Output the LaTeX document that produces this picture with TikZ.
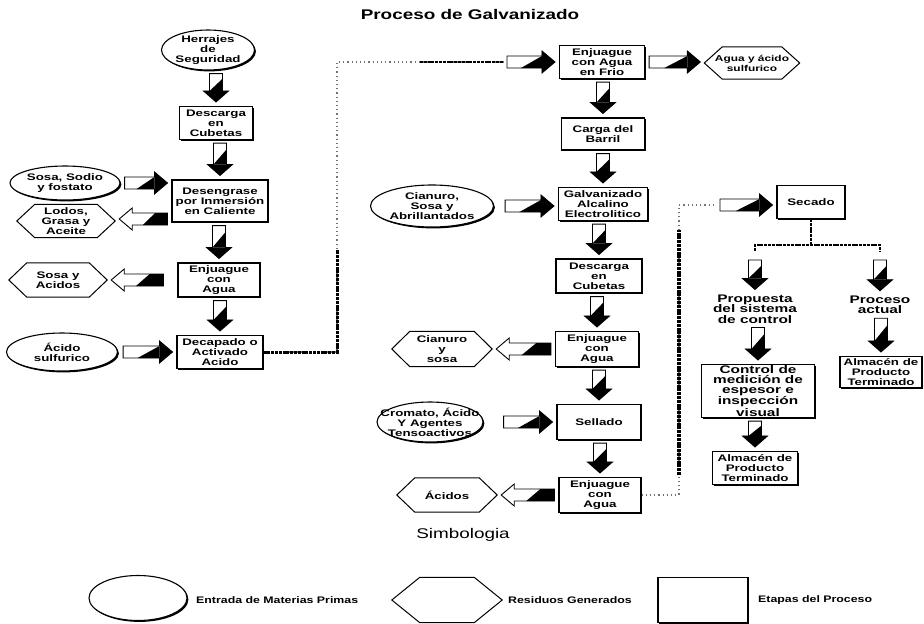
\documentclass[tikz,border=0pt]{standalone}
\usepackage{fontspec}
\setmainfont{Liberation Sans}
\newfontfamily\wideface[FakeStretch=1.4]{Liberation Sans}
\newfontfamily\headface[FakeStretch=1.35]{Liberation Sans}
\newfontfamily\keyface[FakeStretch=1.3]{Liberation Sans}
\usetikzlibrary{shapes.geometric,shadows,calc}

% hexagon drawn round a (borderless) residue node
\newcommand\hexout[2][18pt]{%
  \draw[hexline] (#2.west) -- ([xshift=#1]#2.north west) -- ([xshift=-#1]#2.north east)
    -- (#2.east) -- ([xshift=-#1]#2.south east) -- ([xshift=#1]#2.south west) -- cycle;}

% block arrow pointing down, from #1 to the top of #2
\newcommand\blkdown[2]{%
  \coordinate (bd0) at (#1 -| #2);
  \coordinate (bd1) at ([yshift=-3pt]bd0);
  \coordinate (bd2) at ([yshift=4pt]#2);
  \coordinate (bdh) at ([yshift=11pt]bd2);
  \coordinate (bdw) at ($(bd1)!0.3!(bdh)$);
  \path[blk] ([xshift=-6.5pt]bd1) -- ([xshift=6.5pt]bd1) -- ([xshift=6.5pt]bdh) -- ([xshift=12.5pt]bdh)
    -- (bd2) -- ([xshift=-12.5pt]bdh) -- ([xshift=-6.5pt]bdh) -- cycle;
  \fill ([xshift=6.5pt]bdw) -- ([xshift=6.5pt]bdh) -- ([xshift=-6.5pt]bdh) -- cycle;
  \fill ([xshift=12.5pt]bdh) -- (bd2) -- ([xshift=-12.5pt]bdh) -- cycle;}

% block arrow pointing right, from #2 to #3 (optional tail gap #1)
\newcommand\blkright[3][4pt]{%
  \coordinate (br0) at (#3 |- #2);
  \coordinate (br1) at ([xshift=#1]#2);
  \coordinate (br2) at ([xshift=-4pt]br0);
  \coordinate (brh) at ([xshift=-13pt]br2);
  \coordinate (brw) at ($(br1)!0.4!(brh)$);
  \path[blk] ([yshift=6pt]br1) -- ([yshift=6pt]brh) -- ([yshift=11pt]brh) -- (br2)
    -- ([yshift=-11pt]brh) -- ([yshift=-6pt]brh) -- ([yshift=-6pt]br1) -- cycle;
  \fill ([yshift=-6pt]brw) -- ([yshift=6pt]brh) -- ([yshift=-6pt]brh) -- cycle;
  \fill ([yshift=11pt]brh) -- (br2) -- ([yshift=-11pt]brh) -- cycle;}

% block arrow pointing left, from #2 to #3 (optional tail gap #1)
\newcommand\blkleft[3][4pt]{%
  \coordinate (bl0) at (#3 |- #2);
  \coordinate (bl1) at ([xshift=-#1]#2);
  \coordinate (bl2) at ([xshift=4pt]bl0);
  \coordinate (blh) at ([xshift=13pt]bl2);
  \coordinate (blw) at ($(blh)!0.3!(bl1)$);
  \coordinate (blv) at ($(blh)!0.65!(bl1)$);
  \path[blk] ([yshift=6pt]bl1) -- ([yshift=6pt]blh) -- ([yshift=11pt]blh) -- (bl2)
    -- ([yshift=-11pt]blh) -- ([yshift=-6pt]blh) -- ([yshift=-6pt]bl1) -- cycle;
  \fill ([yshift=-6pt]blw) -- ([yshift=6pt]blv) -- ([yshift=6pt]bl1) -- ([yshift=-6pt]bl1) -- cycle;}

\begin{document}
\begin{tikzpicture}[x=1pt, y=-1pt,
  sz/.style 2 args={minimum width=#1pt, minimum height=#2pt},
  stepfont/.style={font=\wideface\bfseries\fontsize{9.5}{10}\selectfont},
  shade box/.style={drop shadow={shadow xshift=1.4pt, shadow yshift=-1.4pt, opacity=1, fill=black}},
  proc/.style={draw, line width=1.1pt, fill=white, inner sep=1pt, align=center, stepfont, shade box},
  inp/.style={ellipse, draw, line width=1.1pt, fill=white, inner sep=0pt, shade box},
  intext/.style={inner sep=0pt, align=center, stepfont},
  res/.style={inner sep=1pt, align=center, stepfont},
  hexline/.style={draw, line width=1pt, line join=miter},
  blk/.style={draw, line width=0.9pt, fill=white, line join=miter},
  note/.style={inner sep=1pt, align=center, font=\wideface\bfseries\fontsize{11}{10.5}\selectfont},
  keytext/.style={inner sep=0pt, anchor=west, font=\keyface\bfseries\fontsize{9.5}{11}\selectfont},
  stipple/.style={line width=3pt, black, dash pattern=on 3pt off 0.8pt},
  faintline/.style={line width=1.3pt, black!55, dash pattern=on 1.2pt off 3pt}]
\useasboundingbox (0,0) rectangle (924,624);

% title
\node[font=\headface\bfseries\fontsize{14}{16}\selectfont, inner sep=0pt] (title) at (470,14) {Proceso de Galvanizado};

% ---------- left column ----------
\node[inp, sz={93}{40}, label={[intext]center:{Herrajes\\de\\Seguridad}}] (herr) at (208,50) {};
\node[proc, sz={73}{33}] (desc1) at (216,123) {Descarga\\en\\Cubetas};
\node[proc, sz={96}{42}] (deseng) at (220,201) {Desengrase\\por Inmersión\\en Caliente};
\node[inp, sz={110}{34}, label={[intext]center:{Sosa, Sodio\\y fostato}}] (sosa) at (65,183) {};
\node[res, sz={98}{33}] (lodos) at (66,221) {Lodos,\\Grasa y\\Aceite};
\hexout{lodos}
\node[proc, sz={82}{34}] (enj1) at (219,280) {Enjuague\\con\\Agua};
\node[res, sz={98}{34}] (sosaac) at (58,280) {Sosa y\\Acidos};
\hexout{sosaac}
\node[proc, sz={86}{33}] (decap) at (220,352) {Decapado o\\Activado\\Acido};
\node[inp, sz={111}{38}, label={[intext]center:{Ácido\\sulfurico}}] (acsulf) at (62,352) {};

\coordinate (degout) at (deseng.west |- 0,219);
\blkdown{herr.south}{desc1.north}
\blkdown{desc1.south}{deseng.north}
\blkdown{deseng.south}{enj1.north}
\blkdown{enj1.south}{decap.north}
\blkright{sosa.east}{deseng.west}
\blkleft{degout}{lodos.east}
\blkleft[14pt]{enj1.west}{sosaac.east}
\blkright[5pt]{acsulf.east}{decap.west}

% ---------- middle column ----------
\node[proc, sz={85}{33}] (frio) at (602,62) {Enjuague\\con Agua\\en Frio};
\node[res, sz={95}{32}, font=\wideface\bfseries\fontsize{8.5}{10}\selectfont] (aguaac) at (752,63) {Agua y ácido\\sulfurico};
\hexout{aguaac}
\node[proc, sz={83}{32}] (barril) at (603,134) {Carga del\\Barril};
\node[proc, sz={89}{33}] (galv) at (603,204) {Galvanizado\\Alcalino\\Electrolitico};
\node[inp, sz={123}{42}, label={[intext]center:{Cianuro,\\Sosa y\\Abrillantados}}] (cian) at (432,206) {};
\node[proc, sz={86}{34}] (desc2) at (599,276) {Descarga\\en\\Cubetas};
\node[proc, sz={83}{35}] (enj2) at (597,349) {Enjuague\\con\\Agua};
\node[res, sz={100}{35}] (ciansosa) at (442,349) {Cianuro\\y\\sosa};
\hexout{ciansosa}
\node[proc, sz={84}{35}] (sell) at (599,422) {Sellado};
\node[inp, sz={106}{40}, label={[intext]center:{Cromato, Ácido\\Y Agentes\\Tensoactivos}}] (crom) at (430,422) {};
\node[proc, sz={82}{35}] (enj3) at (600,495) {Enjuague\\con\\Agua};
\node[res, sz={100}{34}] (acidos) at (447,495) {Ácidos};
\hexout{acidos}

\blkright{frio.east}{aguaac.west}
\blkdown{frio.south}{barril.north}
\blkdown{barril.south}{galv.north}
\blkright[11pt]{cian.east}{galv.west}
\blkdown{galv.south}{desc2.north}
\blkdown{desc2.south}{enj2.north}
\blkleft{enj2.west}{ciansosa.east}
\blkdown{enj2.south}{sell.north}
\blkright[20pt]{crom.east}{sell.west}
\blkdown{sell.south}{enj3.north}
\blkleft{enj3.west}{acidos.east}

% line from the pickling step up to the cold rinse
\coordinate (cl1) at (337,352);
\coordinate (clh) at (337,250);
\coordinate (cl2) at (337,62);
\coordinate (clt) at (420,62);
\coordinate (cl3) at (503,62);
\draw[faintline] (decap.east) -- (cl1) -- (cl2) -- (cl3);
\draw[stipple] (decap.east) -- (cl1) -- (clh);
\draw[stipple, line width=2.2pt] (clt) -- (cl3);
\blkright{cl3}{frio.west}

% ---------- right part ----------
\node[proc, sz={68}{33}] (sec) at (811,202) {Secado};
\coordinate (cr1) at (679,495);
\coordinate (crl) at (679,475);
\coordinate (cru) at (679,230);
\coordinate (cr2) at (679,205);
\coordinate (cr3) at (716,205);
\draw[faintline] (enj3.east) -- (cr1) -- (cr2) -- (cr3);
\draw[stipple, line width=4pt] (crl) -- (cru);
\blkright{cr3}{sec.west}

\node[note] (prop) at (755,309) {Propuesta\\del sistema\\de control};
\node[note] (actual) at (880,305) {Proceso\\actual};
\node[proc, sz={113}{53}, font=\wideface\bfseries\fontsize{11}{9.8}\selectfont] (ctrl) at (758,391) {Control de\\medición de\\espesor e\\inspección\\visual};
\node[proc, sz={85}{33}] (alm1) at (755,468) {Almacén de\\Producto\\Terminado};
\node[proc, sz={82}{31}] (alm2) at (881,372) {Almacén de\\Producto\\Terminado};

% split below the drying step
\coordinate (bl) at (755,245);
\coordinate (bR) at (880,245);
\coordinate (bM) at (sec.south |- bl);
\coordinate (tl) at (755,251);
\coordinate (tR) at (880,251);
\coordinate (al) at (755,257);
\coordinate (aR) at (880,257);
\draw[stipple, line width=2.2pt] (sec.south) -- (bM);
\draw[stipple, line width=2.6pt] (tl) -- (bl) -- (bR) -- (tR);

\blkdown{al}{prop.north}
\blkdown{aR}{actual.north}
\blkdown{prop.south}{ctrl.north}
\blkdown{ctrl.south}{alm1.north}
\blkdown{actual.south}{alm2.north}

% ---------- legend ----------
\node[font=\headface\fontsize{14}{16}\selectfont, inner sep=0pt] (simb) at (463,535) {Simbologia};
\node[inp, sz={98}{45}] (keyin) at (138,598) {};
\node[keytext] (keyintxt) at (196,600) {Entrada de Materias Primas};
\node[res, sz={110}{45}] (keyres) at (447,600) {};
\hexout[28pt]{keyres}
\node[keytext] (keyrestxt) at (508,600) {Residuos Generados};
\node[proc, sz={90}{45}] (keystep) at (703,600) {};
\node[keytext] (keysteptxt) at (758,600) {Etapas del Proceso};
\end{tikzpicture}
\end{document}
